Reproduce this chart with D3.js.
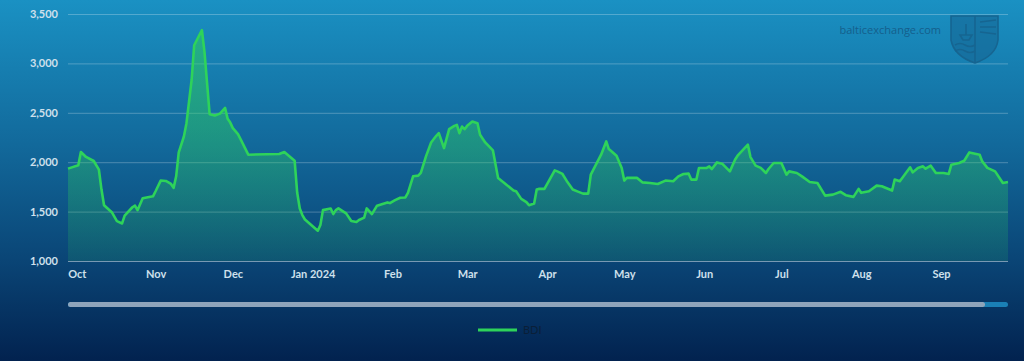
<!DOCTYPE html>
<html>
<head>
<meta charset="utf-8">
<script src="https://cdn.jsdelivr.net/npm/d3@7"></script>
<style>
  html, body { margin: 0; padding: 0; background: #022552; }
  svg { display: block; font-family: Lato, "Open Sans", sans-serif; }
</style>
</head>
<body>
<div id="chartDiv"></div>
<script>
// BDI daily values (turning points)
var dates = ["2023-09-28","2023-10-02","2023-10-03","2023-10-05","2023-10-08","2023-10-10","2023-10-11","2023-10-12","2023-10-15","2023-10-17","2023-10-19","2023-10-20","2023-10-23","2023-10-24","2023-10-25","2023-10-27","2023-10-31","2023-11-01","2023-11-03","2023-11-05","2023-11-07","2023-11-08","2023-11-09","2023-11-10","2023-11-12","2023-11-13","2023-11-15","2023-11-16","2023-11-19","2023-11-20","2023-11-22","2023-11-24","2023-11-26","2023-11-28","2023-11-29","2023-11-30","2023-12-01","2023-12-03","2023-12-04","2023-12-07","2023-12-19","2023-12-21","2023-12-25","2023-12-26","2023-12-27","2023-12-28","2023-12-29","2024-01-03","2024-01-04","2024-01-05","2024-01-08","2024-01-09","2024-01-10","2024-01-11","2024-01-14","2024-01-16","2024-01-18","2024-01-19","2024-01-21","2024-01-22","2024-01-24","2024-01-26","2024-01-30","2024-01-31","2024-02-02","2024-02-04","2024-02-06","2024-02-07","2024-02-09","2024-02-11","2024-02-12","2024-02-14","2024-02-16","2024-02-18","2024-02-19","2024-02-21","2024-02-23","2024-02-25","2024-02-26","2024-02-27","2024-02-28","2024-02-29","2024-03-01","2024-03-03","2024-03-05","2024-03-06","2024-03-08","2024-03-11","2024-03-13","2024-03-19","2024-03-20","2024-03-22","2024-03-24","2024-03-25","2024-03-27","2024-03-28","2024-03-29","2024-03-31","2024-04-02","2024-04-04","2024-04-05","2024-04-07","2024-04-09","2024-04-11","2024-04-13","2024-04-15","2024-04-17","2024-04-18","2024-04-20","2024-04-22","2024-04-24","2024-04-25","2024-04-28","2024-04-30","2024-05-01","2024-05-02","2024-05-06","2024-05-08","2024-05-11","2024-05-14","2024-05-17","2024-05-20","2024-05-22","2024-05-24","2024-05-26","2024-05-27","2024-05-29","2024-05-30","2024-06-02","2024-06-03","2024-06-04","2024-06-06","2024-06-08","2024-06-11","2024-06-13","2024-06-14","2024-06-18","2024-06-19","2024-06-21","2024-06-23","2024-06-25","2024-06-26","2024-06-28","2024-07-01","2024-07-03","2024-07-04","2024-07-07","2024-07-09","2024-07-12","2024-07-15","2024-07-18","2024-07-21","2024-07-24","2024-07-26","2024-07-29","2024-07-31","2024-08-01","2024-08-04","2024-08-07","2024-08-09","2024-08-13","2024-08-14","2024-08-16","2024-08-20","2024-08-21","2024-08-23","2024-08-25","2024-08-26","2024-08-28","2024-08-30","2024-09-02","2024-09-04","2024-09-05","2024-09-08","2024-09-10","2024-09-12","2024-09-16","2024-09-17","2024-09-19","2024-09-22","2024-09-25","2024-09-27"];
var bdiValues = [1935,1968,2103,2053,2012,1924,1723,1565,1494,1403,1380,1460,1544,1561,1514,1635,1655,1706,1814,1810,1780,1740,1857,2099,2260,2395,2832,3184,3336,3117,2486,2472,2492,2549,2439,2401,2345,2284,2234,2076,2083,2103,2015,1690,1531,1465,1420,1307,1364,1515,1532,1475,1515,1532,1482,1405,1395,1415,1439,1532,1475,1560,1593,1586,1616,1640,1643,1690,1857,1864,1891,2059,2200,2267,2294,2143,2334,2368,2378,2294,2361,2334,2368,2411,2395,2277,2200,2119,1841,1713,1706,1629,1596,1565,1582,1723,1730,1730,1824,1917,1907,1881,1796,1723,1702,1682,1682,1874,1975,2076,2210,2133,2066,1942,1814,1841,1841,1796,1790,1780,1814,1807,1857,1881,1884,1824,1824,1942,1942,1958,1931,1998,1985,1907,2025,2066,2177,2052,1965,1942,1891,1931,1992,1992,1874,1907,1891,1857,1800,1790,1662,1672,1700,1666,1649,1730,1690,1706,1763,1757,1713,1824,1807,1948,1897,1942,1958,1934,1965,1891,1891,1881,1975,1992,2015,2099,2076,2008,1942,1907,1790,1800];

var yTicks = [1000, 1500, 2000, 2500, 3000, 3500];
var monthTicks = ["2023-10-01","2023-11-01","2023-12-01","2024-01-01","2024-02-01","2024-03-01","2024-04-01","2024-05-01","2024-06-01","2024-07-01","2024-08-01","2024-09-01"];
var monthLabels = ["Oct","Nov","Dec","Jan 2024","Feb","Mar","Apr","May","Jun","Jul","Aug","Sep"];
var seriesName = "BDI";

var width = 1024, height = 361;
var plotLeft = 68, plotRight = 1008, plotTop = 14, plotBottom = 261;

var parseDate = d3.timeParse("%Y-%m-%d");
var data = dates.map(function(d, i) { return { date: parseDate(d), value: bdiValues[i] }; });

var svg = d3.select("#chartDiv").append("svg")
    .attr("width", width)
    .attr("height", height);

var defs = svg.append("defs");

var bg = defs.append("linearGradient").attr("id", "bgGrad")
    .attr("x1", 0).attr("y1", 0).attr("x2", 0).attr("y2", 1);
bg.append("stop").attr("offset", "0%").attr("stop-color", "#1a91c3");
bg.append("stop").attr("offset", "40%").attr("stop-color", "#12699b");
bg.append("stop").attr("offset", "72%").attr("stop-color", "#0a4576");
bg.append("stop").attr("offset", "100%").attr("stop-color", "#02224f");

var areaGrad = defs.append("linearGradient").attr("id", "areaGrad")
    .attr("gradientUnits", "userSpaceOnUse")
    .attr("x1", 0).attr("y1", plotTop).attr("x2", 0).attr("y2", plotBottom);
areaGrad.append("stop").attr("offset", "0%").attr("stop-color", "#2fd35b").attr("stop-opacity", 0.55);
areaGrad.append("stop").attr("offset", "45%").attr("stop-color", "#2fd35b").attr("stop-opacity", 0.42);
areaGrad.append("stop").attr("offset", "100%").attr("stop-color", "#2fd35b").attr("stop-opacity", 0.12);

svg.append("rect")
    .attr("width", width)
    .attr("height", height)
    .attr("fill", "url(#bgGrad)");

var x = d3.scaleTime()
    .domain([parseDate("2023-09-28"), parseDate("2024-09-27")])
    .range([plotLeft, plotRight]);

var y = d3.scaleLinear()
    .domain([1000, 3500])
    .range([plotBottom, plotTop]);

// grid lines
svg.append("g")
    .selectAll("line")
    .data(yTicks)
    .enter()
    .append("line")
    .attr("x1", plotLeft)
    .attr("x2", plotRight)
    .attr("y1", function(d) { return y(d) + 0.5; })
    .attr("y2", function(d) { return y(d) + 0.5; })
    .attr("stroke", "#ffffff")
    .attr("stroke-opacity", function(d) { return d == 1000 ? 0.45 : 0.25; })
    .attr("stroke-width", 1);

// y axis labels
var yAxis = d3.axisLeft(y)
    .tickValues(yTicks)
    .tickSize(0)
    .tickPadding(10)
    .tickFormat(d3.format(","));

svg.append("g")
    .attr("transform", "translate(" + plotLeft + ",0)")
    .call(yAxis)
    .call(function(g) { g.select(".domain").remove(); })
    .selectAll("text")
    .attr("fill", "#cfe0ec")
    .attr("font-size", "11px")
    .attr("font-weight", "bold")
    .attr("font-family", "Lato, sans-serif");

// x axis labels
var xAxis = d3.axisBottom(x)
    .tickValues(monthTicks.map(parseDate))
    .tickSize(0)
    .tickPadding(9)
    .tickFormat(function(d, i) { return monthLabels[i]; });

var xg = svg.append("g")
    .attr("transform", "translate(0," + plotBottom + ")")
    .call(xAxis);
xg.select(".domain").remove();
xg.selectAll("text")
    .attr("fill", "#cfe0ec")
    .attr("font-size", "11px")
    .attr("font-weight", "bold")
    .attr("font-family", "Lato, sans-serif")
    .attr("text-anchor", function(d, i) { return i == 0 ? "start" : "middle"; })
    .attr("dx", function(d, i) { return i == 0 ? "-8" : "0"; });

// watermark
svg.append("text")
    .attr("x", 941)
    .attr("y", 34)
    .attr("text-anchor", "end")
    .attr("fill", "#155f8c")
    .attr("font-size", "11px")
    .attr("font-family", "'Open Sans', sans-serif")
    .text("balticexchange.com");

var logo = svg.append("g").attr("fill", "none").attr("stroke", "#166591").attr("stroke-width", 1.6);
logo.append("path")
    .attr("d", "M951,16 L998,16 L998,40 Q996,56 975,63 Q954,56 951,40 Z")
    .attr("fill", "#166591").attr("fill-opacity", 0.55);
logo.append("path").attr("d", "M975,16 L975,63");
logo.append("path").attr("d", "M955,45 Q960,42 965,45 T975,45 M955,51 Q960,48 965,51 T975,51");
logo.append("path").attr("d", "M960,35 L972,35 L969,40 L963,40 Z M966,24 L966,35");
logo.append("path").attr("d", "M980,22 L996,20 M980,27 L996,27 M980,32 L996,34");

// area + line
var area = d3.area()
    .x(function(d) { return x(d.date); })
    .y0(y(1000))
    .y1(function(d) { return y(d.value); });

var line = d3.line()
    .x(function(d) { return x(d.date); })
    .y(function(d) { return y(d.value); });

svg.append("path")
    .datum(data)
    .attr("d", area)
    .attr("fill", "url(#areaGrad)");

svg.append("path")
    .datum(data)
    .attr("d", line)
    .attr("fill", "none")
    .attr("stroke", "#2ed35a")
    .attr("stroke-width", 2.6)
    .attr("stroke-linejoin", "round");

// scrollbar (navigator)
svg.append("rect")
    .attr("x", plotLeft)
    .attr("y", 302)
    .attr("width", plotRight - plotLeft)
    .attr("height", 5)
    .attr("rx", 2.5)
    .attr("fill", "#1a80b6");
svg.append("rect")
    .attr("x", plotLeft)
    .attr("y", 302)
    .attr("width", 985 - plotLeft)
    .attr("height", 5)
    .attr("rx", 2.5)
    .attr("fill", "#8ea4bb");

// legend
svg.append("line")
    .attr("x1", 478).attr("x2", 517)
    .attr("y1", 330).attr("y2", 330)
    .attr("stroke", "#2ed35a")
    .attr("stroke-width", 3);
svg.append("text")
    .attr("x", 523)
    .attr("y", 334)
    .attr("fill", "#0a1f38")
    .attr("font-size", "11px")
    .attr("font-family", "Lato, sans-serif")
    .text(seriesName);
</script>
</body>
</html>
